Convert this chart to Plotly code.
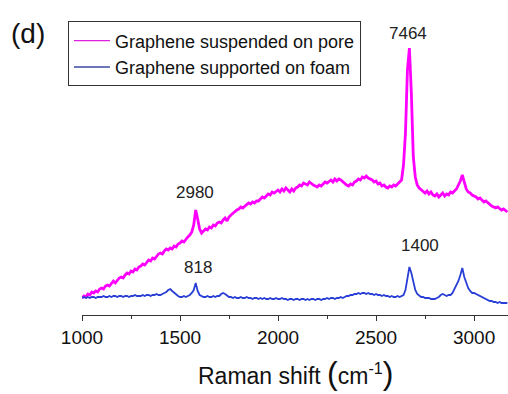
import numpy as np
import plotly.graph_objects as go

# Raman shift grid (cm^-1), 10 cm^-1 sampling from 1000 to 3170
wavenumber = np.arange(1000, 3171, 10)

# Intensity (a.u.)
pore = [
    17, 19, 18, 21, 20, 23, 22, 24, 23, 26,
    27, 26, 29, 30, 29, 32, 34, 32, 35, 37,
    38, 37, 40, 42, 41, 44, 43, 46, 45, 48,
    49, 51, 50, 53, 55, 54, 57, 56, 59, 61,
    62, 61, 64, 66, 65, 67, 66, 69, 68, 71,
    72, 74, 73, 76, 78, 80, 83, 90, 105, 96,
    86, 82, 84, 86, 85, 88, 87, 90, 89, 92,
    93, 92, 95, 97, 94, 98, 100, 102, 104, 105,
    106, 108, 107, 109, 110, 112, 111, 113, 112, 114,
    114, 116, 118, 117, 119, 121, 120, 123, 122, 124,
    125, 123, 126, 124, 127, 125, 123, 126, 124, 127,
    128, 130, 129, 132, 131, 130, 133, 131, 130, 129,
    128, 130, 129, 131, 133, 132, 134, 135, 133, 136,
    134, 136, 135, 133, 131, 130, 129, 131, 130, 133,
    134, 136, 135, 138, 137, 139, 137, 136, 135, 133,
    134, 131, 132, 129, 130, 128, 127, 129, 128, 130,
    129, 131, 133, 135, 150, 182, 245, 267, 222, 158,
    138, 130, 127, 125, 124, 122, 124, 121, 123, 120,
    119, 121, 118, 120, 122, 119, 121, 120, 123, 122,
    124, 126, 130, 134, 140, 132, 126, 123, 122, 120,
    119, 118, 116, 117, 115, 113, 114, 112, 110, 109,
    108, 107, 108, 106, 105, 106, 104, 103,
]
foam = [
    17, 18, 17, 18, 17, 18, 18, 17, 18, 18,
    18, 19, 18, 18, 19, 18, 19, 19, 18, 19,
    19, 18, 19, 19, 18, 19, 19, 20, 19, 19,
    19, 20, 19, 20, 20, 19, 20, 20, 21, 20,
    20, 21, 22, 23, 25, 26, 24, 22, 20, 19,
    18, 18, 19, 18, 19, 20, 22, 25, 32, 24,
    20, 19, 18, 18, 19, 18, 18, 19, 18, 19,
    19, 21, 22, 21, 19, 18, 18, 17, 18, 17,
    17, 18, 17, 17, 18, 17, 17, 16, 17, 17,
    16, 17, 16, 17, 16, 16, 17, 16, 16, 17,
    16, 16, 17, 16, 16, 15, 16, 16, 15, 16,
    16, 15, 16, 16, 15, 16, 15, 16, 16, 15,
    16, 16, 15, 16, 16, 17, 16, 17, 17, 16,
    17, 17, 18, 17, 18, 19, 19, 20, 20, 21,
    21, 22, 21, 22, 22, 21, 22, 21, 21, 20,
    21, 20, 20, 19, 20, 19, 19, 18, 19, 18,
    18, 19, 18, 19, 20, 25, 36, 48, 42, 33,
    25, 21, 19, 18, 18, 17, 17, 17, 16, 16,
    16, 17, 18, 20, 21, 20, 19, 20, 20, 22,
    26, 30, 34, 40, 47, 38, 32, 27, 24, 22,
    22, 21, 20, 19, 18, 17, 16, 15, 14, 14,
    13, 13, 12, 13, 12, 12, 12, 12,
]

series_names = ["Graphene suspended on pore", "Graphene supported on foam"]
series_colors = ["#ff00ff", "#2a3fd6"]
legend_colors = ["#e020e0", "#3a4aa0"]

# peak labels: (text, x position cm^-1, y level a.u.)
label_text = ["7464", "2980", "818", "1400"]
label_x = [2663, 1577, 1592, 2724]
label_y = [282, 123, 48, 70]

FONT = "Arial, Liberation Sans, sans-serif"

fig = go.Figure()
fig.add_trace(go.Scatter(x=wavenumber, y=pore, mode="lines", name=series_names[0],
                         showlegend=False,
                         line=dict(color=series_colors[0], width=2.8)))
fig.add_trace(go.Scatter(x=wavenumber, y=foam, mode="lines", name=series_names[1],
                         showlegend=False,
                         line=dict(color=series_colors[1], width=1.8)))
# legend entries (thin sample lines as in the reference)
for name, col in zip(series_names, legend_colors):
    fig.add_trace(go.Scatter(x=[None], y=[None], mode="lines", name=name,
                             line=dict(color=col, width=1.3)))

for t, x, y in zip(label_text, label_x, label_y):
    fig.add_annotation(x=x, y=y, text=t, showarrow=False, xref="x", yref="y",
                       font=dict(family=FONT, size=17, color="#222"))

fig.add_annotation(x=-0.172, y=0.893, xref="paper", yref="paper", text="(d)",
                   showarrow=False, xanchor="left", yanchor="middle",
                   font=dict(family=FONT, size=28, color="#111"))

fig.add_annotation(x=0.5, y=-0.185, xref="paper", yref="paper",
                   text="Raman shift <span style='font-size:32px'>(</span>cm<sup>-1</sup><span style='font-size:32px'>)</span>",
                   showarrow=False, xanchor="center", yanchor="middle",
                   font=dict(family=FONT, size=23, color="#111"))

fig.update_layout(
    width=508, height=394,
    margin=dict(l=82, r=0, t=0, b=79),
    paper_bgcolor="white", plot_bgcolor="white",
    showlegend=True,
    legend=dict(x=-0.033, y=0.932, xanchor="left", yanchor="top",
                bordercolor="#333", borderwidth=1, bgcolor="white",
                font=dict(family=FONT, size=18, color="#111"),
                itemwidth=36, tracegroupgap=0),
    xaxis=dict(range=[1000, 3173], showgrid=False, zeroline=False,
               showline=True, linecolor="#333", linewidth=1.2,
               ticks="outside", ticklen=5, tickcolor="#333",
               tickvals=[1000, 1500, 2000, 2500, 3000],
               minor=dict(ticks="outside", ticklen=3, dtick=250, tick0=1000, tickcolor="#333"),
               tickfont=dict(family=FONT, size=19, color="#111")),
    yaxis=dict(range=[0, 315], visible=False),
)

fig.write_html("out.html")
